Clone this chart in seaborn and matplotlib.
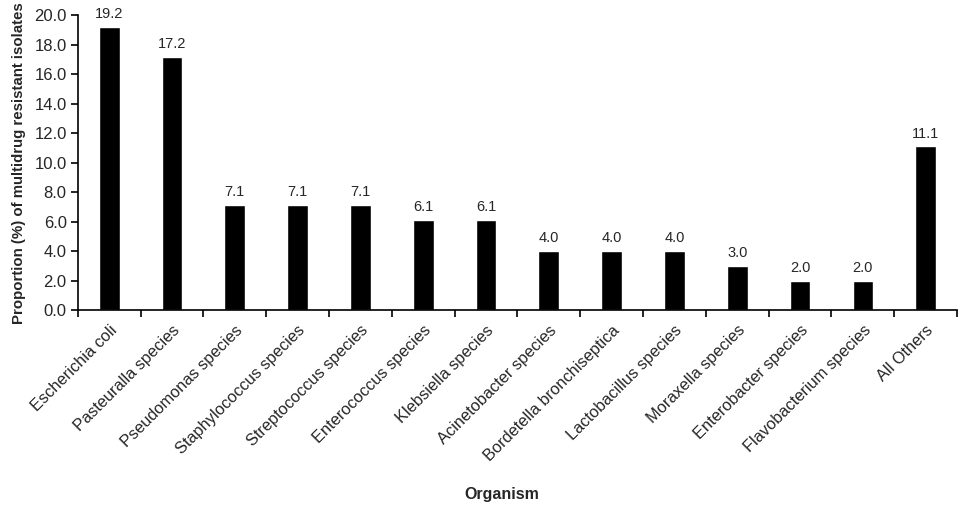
import matplotlib
matplotlib.use("Agg")
import matplotlib.pyplot as plt
import seaborn as sns
import numpy as np
import pandas as pd

organisms = ["Escherichia coli", "Pasteuralla species", "Pseudomonas species",
             "Staphylococcus species", "Streptococcus species", "Enterococcus species",
             "Klebsiella species", "Acinetobacter species", "Bordetella bronchiseptica",
             "Lactobacillus species", "Moraxella species", "Enterobacter species",
             "Flavobacterium species", "All Others"]
proportions = [19.2, 17.2, 7.1, 7.1, 7.1, 6.1, 6.1, 4.0, 4.0, 4.0, 3.0, 2.0, 2.0, 11.1]

df = pd.DataFrame({"organism": organisms, "proportion": proportions})

sns.set_style("white")
plt.rcParams['font.family'] = ['Liberation Sans', 'DejaVu Sans']

fig = plt.figure(figsize=(9.6, 5.09), dpi=100)
ax = fig.add_axes([0.081, 0.391, 0.916, 0.579])

sns.barplot(x="organism", y="proportion", data=df, color="black",
            width=0.33, saturation=1, ax=ax)

for i, v in enumerate(proportions):
    ax.text(i, v + 0.4, f"{v:.1f}", ha="center", va="bottom", fontsize=10.5)

ax.set_ylim(0, 20)
ax.set_xlim(-0.5, len(organisms) - 0.5)
ax.set_yticks(np.arange(0, 20.1, 2))
ax.set_yticklabels([f"{t:.1f}" for t in np.arange(0, 20.1, 2)], fontsize=12)
ax.set_xticks(range(len(organisms)))
ax.set_xticklabels(organisms, rotation=45, ha="right", rotation_mode="anchor", fontsize=11.8)
ax.set_xticks(np.arange(-0.5, len(organisms), 1), minor=True)
ax.tick_params(axis="x", which="major", bottom=True, length=0, pad=9)
ax.tick_params(axis="x", which="minor", bottom=True, length=5, width=1.2,
               color="black", direction="out")
ax.tick_params(axis="y", left=True, length=5, width=1.2, color="black",
               direction="out", pad=3)

for s in ["top", "right"]:
    ax.spines[s].set_visible(False)
for s in ["left", "bottom"]:
    ax.spines[s].set_color("black")
    ax.spines[s].set_linewidth(1.2)

ax.set_ylabel("Proportion (%) of multidrug resistant isolates", fontsize=10.8,
              fontweight="bold", labelpad=6)
ax.set_xlabel("")
fig.text(0.523, 0.028, "Organism", ha="center", va="center", fontsize=11.5, fontweight="bold")

fig.savefig("out.png", dpi=100)
